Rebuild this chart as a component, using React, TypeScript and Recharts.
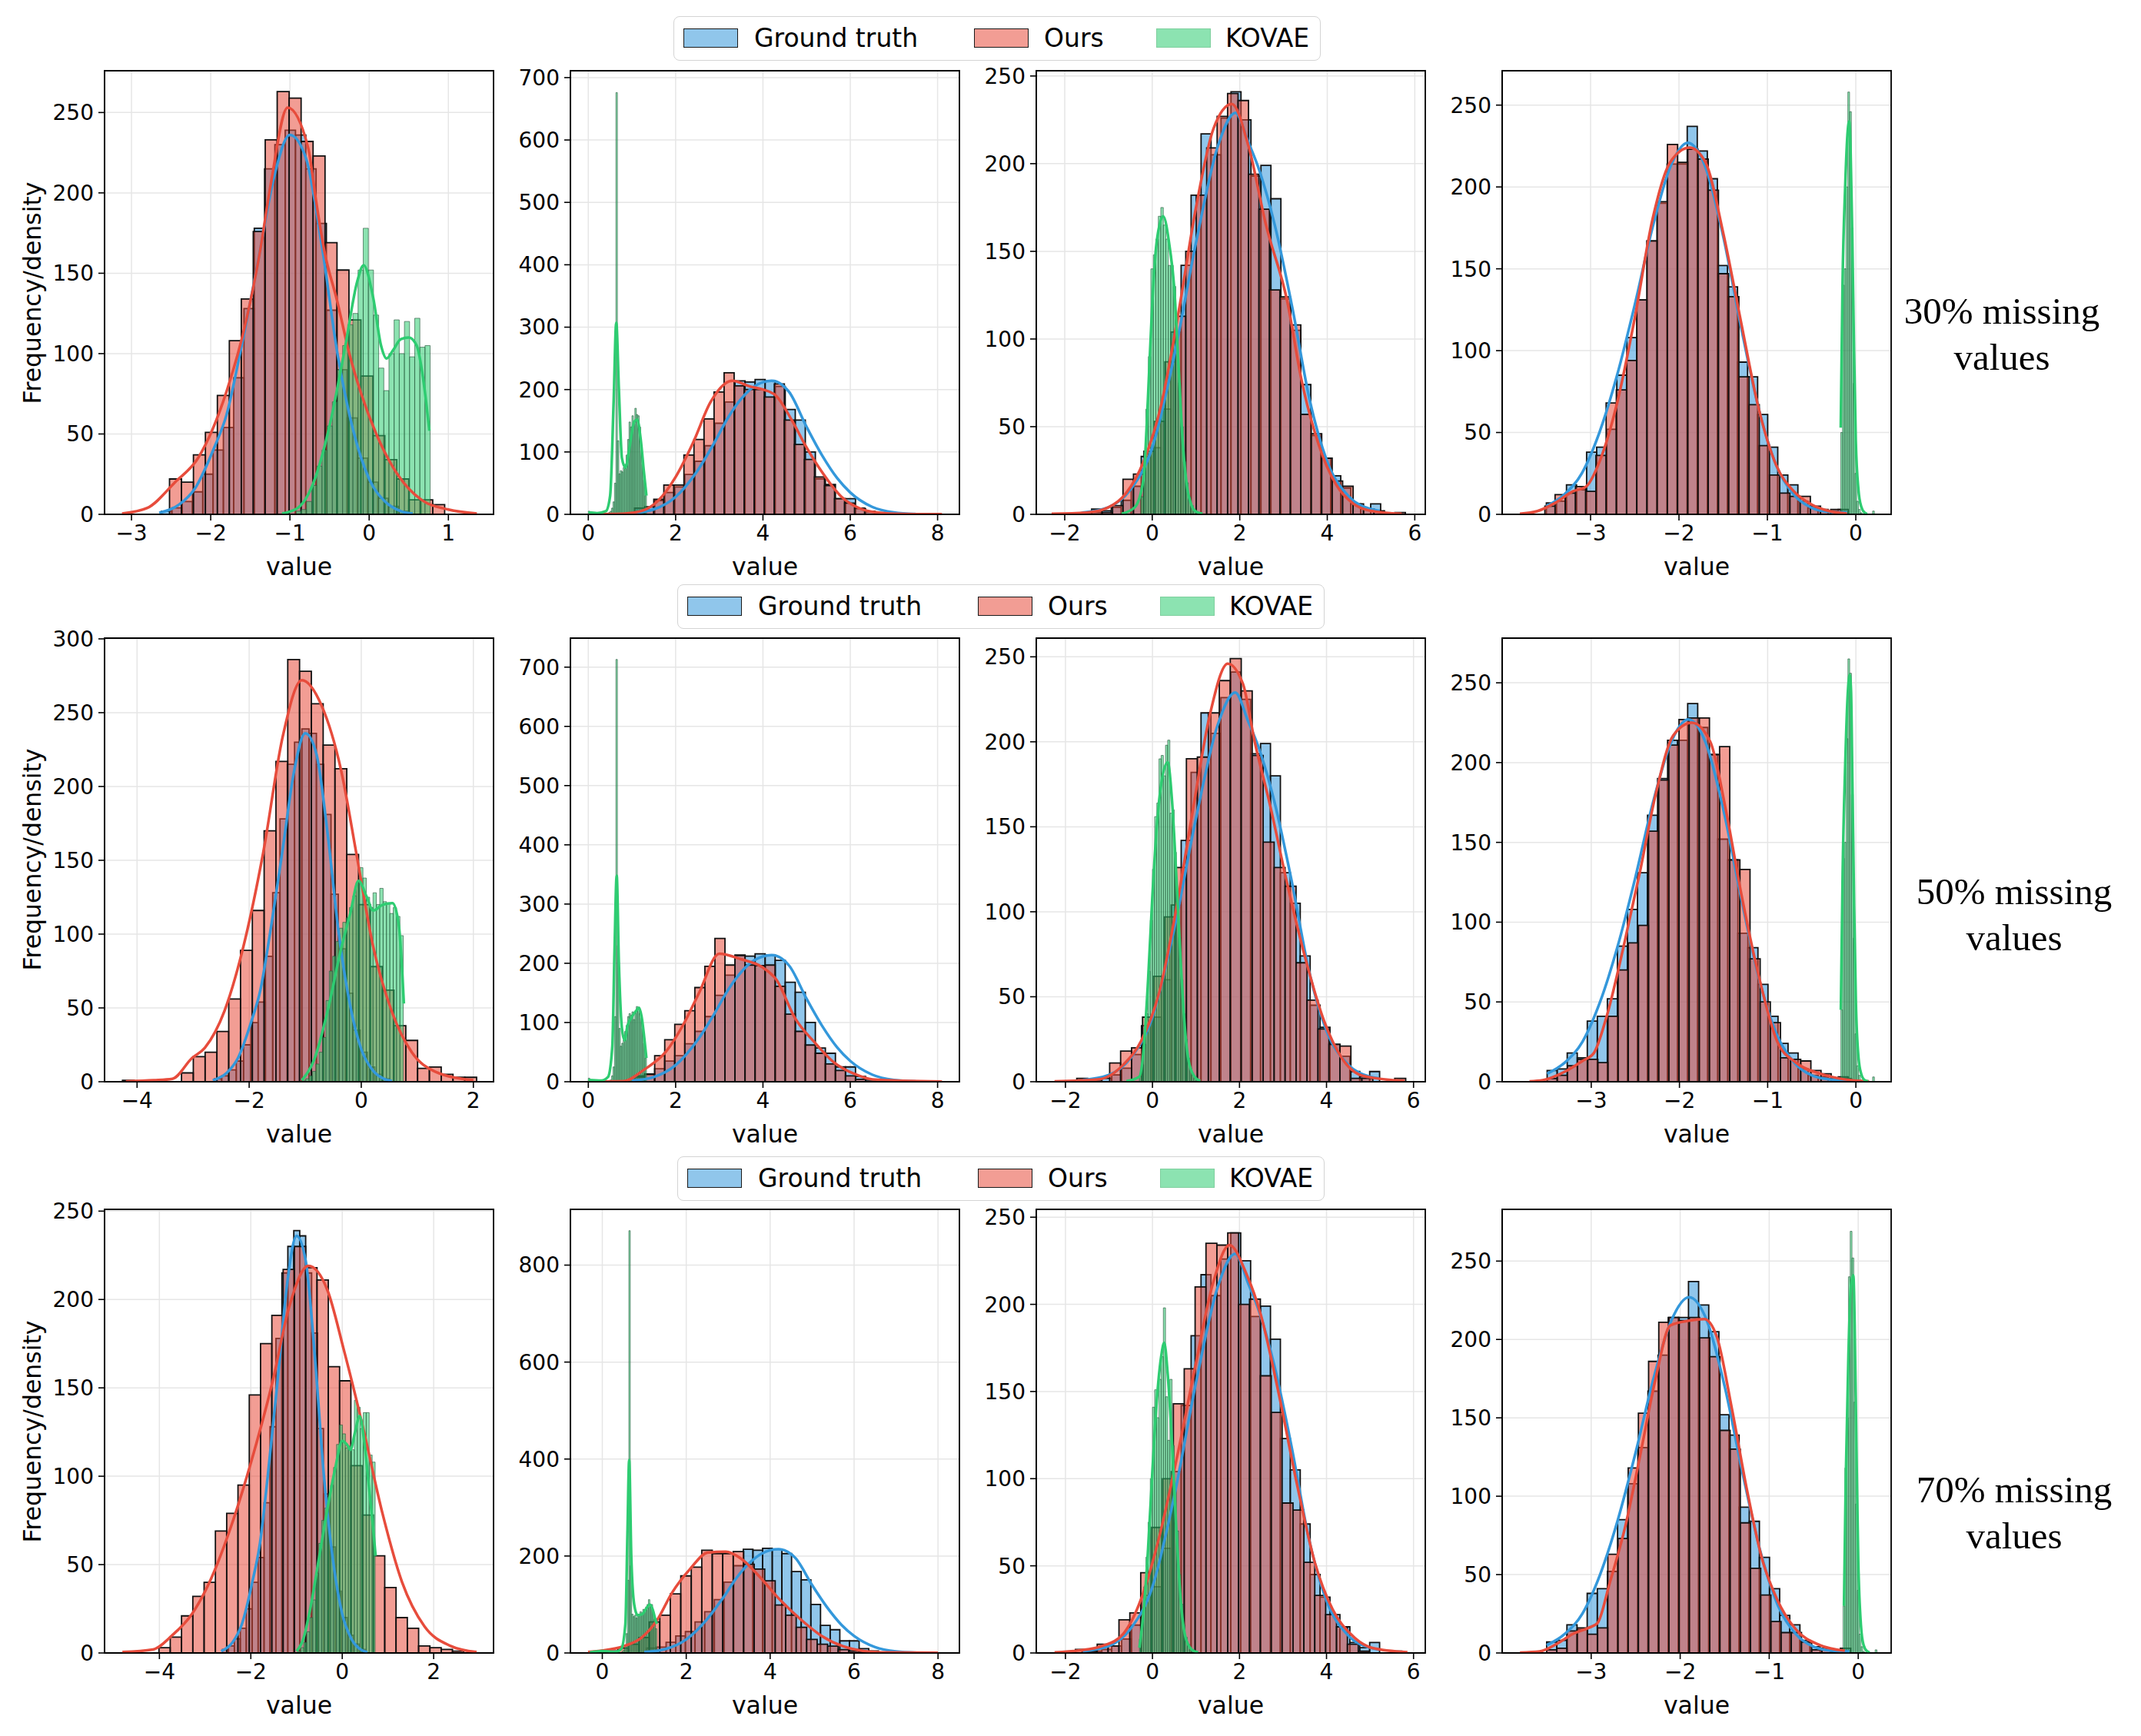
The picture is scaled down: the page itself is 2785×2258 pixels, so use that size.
import React from "react";
import { ComposedChart, Line, XAxis, YAxis, CartesianGrid, ReferenceArea, Label } from "recharts";

type Pt = [number, number];
type Hist = { start: number; width: number; counts: number[] };

const FONT = '"DejaVu Sans", sans-serif';
const BLUE = "#3498db";
const RED = "#e74c3c";
const GREEN = "#2ecc71";

// ---- tick values ----
const xTicksC1Top = [-3, -2, -1, 0, 1];
const xTicksC1 = [-4, -2, 0, 2];
const xTicksC2 = [0, 2, 4, 6, 8];
const xTicksC3 = [-2, 0, 2, 4, 6];
const xTicksC4 = [-3, -2, -1, 0];
const yTicks250 = [0, 50, 100, 150, 200, 250];
const yTicks300 = [0, 50, 100, 150, 200, 250, 300];
const yTicks700 = [0, 100, 200, 300, 400, 500, 600, 700];
const yTicks800 = [0, 200, 400, 600, 800];

// ---- ground truth counts (same sample for every missing rate) ----
const gtC1Counts = [2, 4, 8, 14, 25, 40, 54, 85, 128, 178, 215, 230, 239, 236, 215, 181, 127, 90, 60, 35, 20, 10, 5, 2];
const gtC2Counts = [10, 12, 22, 35, 44, 64, 85, 110, 146, 180, 214, 212, 216, 214, 205, 168, 151, 100, 57, 48, 25, 25, 9, 4];
const gtC3Counts = [1, 1, 2, 4, 8, 16, 33, 38, 60, 104, 142, 182, 217, 205, 226, 241, 225, 193, 199, 180, 123, 105, 74, 45, 32, 22, 15, 6, 3, 6];
const gtC4Counts = [7, 8, 18, 15, 38, 41, 52, 85, 108, 131, 167, 190, 214, 214, 237, 222, 205, 152, 139, 93, 84, 61, 41, 24, 18, 8, 4, 3, 2, 3];

const gtC1Kde: Pt[] = [[-2.65, 1], [-2.4, 6], [-2.2, 16], [-1.96, 41], [-1.8, 62], [-1.63, 100], [-1.4, 158], [-1.2, 210], [-1.0, 236], [-0.8, 222], [-0.6, 168], [-0.4, 100], [-0.2, 52], [0.0, 22], [0.2, 8], [0.4, 2], [0.55, 0.5]];
const gtC2Kde: Pt[] = [[1.0, 2], [1.5, 8], [2.0, 28], [2.5, 70], [2.88, 114], [3.2, 155], [3.5, 185], [3.8, 205], [4.2, 214], [4.6, 196], [5.0, 140], [5.35, 95], [5.7, 58], [6.0, 35], [6.5, 12], [7.0, 3], [7.5, 0.5]];
const gtC3Kde: Pt[] = [[-1.6, 1], [-1.0, 4], [-0.5, 14], [0.0, 38], [0.5, 90], [1.0, 155], [1.5, 210], [1.9, 229], [2.2, 212], [2.45, 196], [2.8, 165], [3.2, 118], [3.6, 65], [4.0, 30], [4.5, 10], [5.0, 3], [5.2, 2]];
const gtC4Kde: Pt[] = [[-3.5, 5], [-3.3, 12], [-3.1, 25], [-2.9, 50], [-2.7, 85], [-2.5, 128], [-2.3, 175], [-2.1, 212], [-1.9, 227], [-1.7, 212], [-1.5, 170], [-1.3, 115], [-1.1, 65], [-0.9, 30], [-0.7, 12], [-0.5, 4], [-0.3, 1.5], [-0.1, 1]];

// ---- ours, 30% missing ----
const oursR1C1 = [22, 20, 37, 51, 74, 108, 134, 176, 233, 263, 259, 232, 223, 169, 152, 121, 86, 49, 34, 22, 9, 9, 6];
const oursR1C2 = [7, 24, 47, 47, 95, 120, 153, 196, 227, 206, 200, 200, 188, 209, 151, 112, 88, 60, 46, 25, 18, 10, 5];
const oursR1C3 = [3, 1, 5, 20, 23, 36, 53, 87, 113, 150, 182, 209, 227, 240, 236, 194, 174, 128, 124, 108, 57, 46, 32, 19, 16, 6, 3, 2, 0, 1];
const oursR1C4 = [5, 12, 13, 17, 14, 36, 68, 76, 94, 131, 167, 191, 226, 215, 223, 217, 198, 147, 133, 84, 67, 42, 24, 13, 11, 11, 5, 2, 3];
// ---- ours, 50% missing ----
const oursR2C1 = [1, 0, 0, 0, 0, 6, 17, 20, 34, 56, 89, 116, 170, 217, 286, 278, 256, 228, 212, 154, 120, 78, 62, 38, 28, 9, 10, 5, 3, 3];
const oursR2C2 = [8, 13, 44, 71, 97, 120, 159, 195, 242, 197, 213, 197, 196, 197, 161, 114, 85, 62, 48, 30, 19, 10, 4, 1];
const oursR2C3 = [2, 0, 0, 11, 18, 20, 38, 62, 97, 126, 190, 191, 217, 236, 249, 230, 192, 141, 126, 115, 70, 48, 31, 22, 21, 2, 2, 0, 0, 2];
const oursR2C4 = [2, 4, 10, 14, 14, 12, 41, 70, 87, 98, 157, 189, 211, 227, 228, 228, 205, 210, 139, 133, 77, 50, 37, 15, 14, 13, 7, 5, 2, 2];
// ---- ours, 70% missing ----
const oursR3C1 = [3, 9, 21, 32, 40, 69, 79, 95, 146, 175, 191, 217, 230, 218, 211, 162, 154, 106, 78, 55, 37, 20, 14, 4, 3, 2, 1];
const oursR3C2 = [1, 4, 10, 18, 32, 64, 78, 122, 159, 177, 212, 205, 205, 209, 183, 173, 149, 99, 78, 53, 28, 18, 14, 7, 4, 2];
const oursR3C3 = [2, 1, 5, 4, 19, 23, 46, 72, 100, 143, 163, 210, 235, 234, 241, 200, 203, 159, 138, 86, 82, 52, 33, 22, 15, 5, 1, 0, 0, 1];
const oursR3C4 = [2, 3, 14, 16, 12, 16, 63, 73, 118, 153, 186, 211, 214, 212, 214, 201, 189, 142, 130, 83, 54, 37, 20, 13, 13, 7, 2, 3, 1];

const oursKdeR1C1: Pt[] = [[-3.12, 0.5], [-2.8, 4], [-2.45, 20], [-2.16, 35], [-1.79, 78], [-1.55, 121], [-1.38, 163], [-1.24, 206], [-1.03, 253], [-0.77, 228], [-0.67, 195], [-0.57, 165], [-0.4, 132], [-0.25, 100], [-0.1, 75], [0.09, 50], [0.37, 24], [0.66, 9], [1.0, 3], [1.36, 0.5]];
const oursKdeR1C2: Pt[] = [[0.0, 0.3], [0.8, 1], [1.2, 5], [1.6, 22], [2.0, 60], [2.4, 115], [2.8, 180], [3.3, 214], [3.7, 205], [4.0, 200], [4.3, 190], [4.66, 151], [5.0, 107], [5.35, 68], [5.8, 28], [6.2, 10], [6.6, 3], [7.0, 1], [8.1, 0.2]];
const oursKdeR1C3: Pt[] = [[-2.3, 0.3], [-1.5, 1], [-1.0, 4], [-0.6, 12], [-0.2, 30], [0.2, 62], [0.6, 115], [1.0, 175], [1.4, 220], [1.82, 234], [2.2, 210], [2.6, 165], [3.09, 121], [3.4, 78], [3.8, 40], [4.2, 17], [4.6, 6], [5.0, 2], [5.7, 0.3]];
const oursKdeR1C4: Pt[] = [[-3.8, 0.3], [-3.6, 2], [-3.4, 7], [-3.2, 14], [-3.05, 17], [-2.9, 32], [-2.7, 68], [-2.5, 120], [-2.3, 180], [-2.1, 215], [-1.88, 224], [-1.7, 215], [-1.5, 172], [-1.3, 118], [-1.1, 65], [-0.9, 30], [-0.7, 14], [-0.5, 6], [-0.3, 2], [-0.1, 0.5]];
const oursKdeR2C1: Pt[] = [[-4.2, 0.3], [-3.7, 1], [-3.37, 2], [-3.02, 16], [-2.79, 23], [-2.44, 48], [-2.1, 92], [-1.75, 155], [-1.4, 234], [-1.06, 272], [-0.71, 255], [-0.36, 211], [-0.08, 153], [0.21, 92], [0.56, 46], [0.9, 20], [1.31, 7], [2.0, 1]];
const oursKdeR2C2: Pt[] = [[0.0, 0.3], [0.81, 1], [1.29, 21], [1.77, 50], [2.18, 97], [2.53, 149], [3.0, 216], [3.49, 207], [3.97, 194], [4.31, 172], [4.73, 108], [5.2, 65], [5.62, 33], [6.1, 13], [6.51, 4], [8.1, 0.3]];
const oursKdeR2C3: Pt[] = [[-2.25, 0.2], [-1.22, 1.5], [-0.67, 10], [-0.26, 24], [0.15, 52], [0.57, 105], [0.91, 157], [1.32, 216], [1.73, 246], [2.08, 234], [2.35, 200], [2.7, 163], [3.11, 115], [3.52, 72], [3.94, 36], [4.35, 14], [4.83, 3.5], [5.79, 0.4]];
const oursKdeR2C4: Pt[] = [[-3.7, 0.3], [-3.55, 1], [-3.31, 6], [-3.1, 13], [-2.97, 18], [-2.83, 40], [-2.62, 88], [-2.45, 131], [-2.27, 180], [-2.07, 217], [-1.86, 225], [-1.65, 213], [-1.48, 172], [-1.3, 118], [-1.1, 66], [-0.89, 25], [-0.68, 12], [-0.4, 5], [-0.13, 1.5], [0.15, 0.3]];
const oursKdeR3C1: Pt[] = [[-4.81, 0.5], [-4.14, 2], [-3.72, 10], [-3.29, 22], [-2.87, 42], [-2.44, 71], [-1.95, 112], [-1.52, 154], [-1.17, 195], [-0.74, 219], [-0.32, 205], [0.03, 172], [0.46, 127], [0.88, 79], [1.31, 40], [1.8, 15], [2.37, 4], [2.94, 0.5]];
const oursKdeR3C2: Pt[] = [[-0.34, 2], [0.01, 5], [0.51, 14], [0.94, 32], [1.3, 67], [1.66, 124], [2.09, 173], [2.51, 207], [2.94, 209], [3.3, 195], [3.73, 159], [4.23, 110], [4.73, 69], [5.23, 35], [5.73, 14], [6.23, 4], [6.8, 1], [8.0, 0.2]];
const oursKdeR3C3: Pt[] = [[-2.25, 0.3], [-1.7, 1.4], [-1.15, 4], [-0.67, 11], [-0.26, 31], [0.15, 66], [0.57, 113], [0.98, 164], [1.39, 212], [1.77, 234], [2.15, 218], [2.49, 194], [2.9, 149], [3.32, 97], [3.73, 52], [4.14, 25], [4.55, 11], [5.04, 3], [5.86, 0.4]];
const oursKdeR3C4: Pt[] = [[-3.8, 0.3], [-3.58, 1], [-3.38, 6], [-3.21, 12], [-3.03, 16], [-2.93, 19], [-2.79, 45], [-2.62, 80], [-2.45, 126], [-2.28, 174], [-2.11, 209], [-1.9, 212], [-1.73, 213], [-1.59, 202], [-1.42, 156], [-1.25, 104], [-1.08, 60], [-0.91, 34], [-0.7, 15], [-0.43, 5], [-0.15, 1.5]];

// ---- KOVAE counts ----
const kovaeR1C1 = [2, 3, 8, 18, 30, 40, 55, 70, 90, 105, 118, 125, 152, 178, 152, 124, 91, 77, 100, 121, 100, 120, 98, 122, 104, 105];
const kovaeR1C2 = [5, 2, 0, 0, 0, 0, 0, 0, 0, 0, 0, 0, 0, 1, 3, 5, 10, 20, 50, 676, 118, 65, 70, 68, 75, 80, 95, 120, 148, 140, 158, 145, 170, 160, 158, 140, 110, 80, 55, 30];
const kovaeR1C3 = [10, 30, 60, 90, 140, 148, 157, 170, 175, 165, 157, 142, 142, 130, 100, 75, 50, 30, 18, 10, 5, 2];
const kovaeR1C4 = [50, 140, 150, 200, 258, 246, 175, 80, 25, 8, 3, 1, 0, 0, 0, 0, 0, 0, 2];
const kovaeR2C1 = [1, 2, 4, 7, 12, 20, 30, 55, 75, 85, 95, 104, 108, 111, 118, 126, 135, 145, 138, 125, 118, 128, 120, 131, 122, 121, 114, 118, 112, 99];
const kovaeR2C2 = [6, 1, 0, 0, 0, 0, 0, 0, 0, 0, 0, 0, 0, 1, 2, 3, 10, 25, 110, 713, 230, 90, 60, 65, 70, 85, 95, 110, 115, 112, 118, 105, 118, 127, 125, 115, 108, 90, 65, 40];
const kovaeR2C3 = [3, 10, 22, 40, 65, 95, 125, 156, 164, 190, 192, 180, 198, 201, 158, 160, 135, 110, 85, 60, 40, 25, 14, 8, 4, 2, 1];
const kovaeR2C4 = [45, 140, 150, 215, 265, 256, 180, 90, 30, 10, 4, 1, 0, 0, 0, 0, 0, 0, 3];
const kovaeR3C1 = [1, 3, 6, 12, 20, 30, 45, 62, 75, 82, 88, 95, 105, 118, 129, 124, 116, 117, 115, 143, 139, 127, 136, 136, 112, 108];
const kovaeR3C2 = [3, 1, 0, 0, 0, 0, 0, 0, 0, 0, 0, 0, 0, 1, 3, 6, 15, 40, 150, 871, 180, 80, 75, 78, 72, 78, 80, 85, 82, 90, 88, 95, 100, 110, 95, 100, 85, 70, 50];
const kovaeR3C3 = [8, 20, 38, 55, 75, 100, 141, 151, 135, 157, 170, 198, 147, 122, 157, 119, 95, 70, 45, 28, 16, 9, 5, 2, 1];
const kovaeR3C4 = [30, 118, 150, 240, 269, 252, 160, 95, 40, 12, 4, 1, 0, 0, 0, 0, 0, 0, 2];

const kovaeKdeR1C1: Pt[] = [[-1.1, 0.5], [-0.9, 4], [-0.7, 20], [-0.5, 55], [-0.3, 105], [-0.15, 145], [-0.07, 155], [0.05, 135], [0.15, 105], [0.22, 97], [0.3, 102], [0.4, 109], [0.5, 110], [0.6, 105], [0.68, 85], [0.76, 52]];
const kovaeKdeR1C2: Pt[] = [[0.0, 3], [0.2, 2], [0.4, 5], [0.5, 30], [0.58, 180], [0.64, 307], [0.7, 200], [0.77, 90], [0.85, 75], [0.95, 110], [1.05, 148], [1.12, 152], [1.2, 120], [1.27, 70], [1.33, 30]];
const kovaeKdeR1C3: Pt[] = [[-0.7, 0.3], [-0.4, 4], [-0.2, 20], [-0.1, 65], [0.0, 120], [0.1, 155], [0.25, 170], [0.4, 152], [0.5, 130], [0.6, 85], [0.7, 40], [0.8, 15], [0.9, 5], [1.0, 1.5], [1.15, 0.3]];
const kovaeKdeR1C4: Pt[] = [[-0.17, 53], [-0.15, 140], [-0.12, 200], [-0.09, 235], [-0.075, 240], [-0.06, 225], [-0.04, 170], [-0.02, 100], [0.0, 45], [0.03, 15], [0.06, 5], [0.1, 1], [0.13, 0.3]];
const kovaeKdeR2C1: Pt[] = [[-1.06, 1], [-0.83, 16], [-0.6, 48], [-0.36, 90], [-0.19, 115], [-0.05, 136], [0.1, 125], [0.21, 116], [0.39, 120], [0.56, 121], [0.67, 106], [0.76, 53]];
const kovaeKdeR2C2: Pt[] = [[0.0, 3], [0.3, 2], [0.45, 8], [0.55, 60], [0.6, 220], [0.65, 348], [0.7, 200], [0.77, 90], [0.83, 70], [0.9, 95], [1.0, 110], [1.1, 120], [1.16, 125], [1.22, 110], [1.28, 75], [1.33, 40]];
const kovaeKdeR2C3: Pt[] = [[-0.6, 0.3], [-0.3, 3], [-0.2, 20], [-0.1, 60], [0.0, 110], [0.1, 150], [0.2, 175], [0.35, 188], [0.45, 165], [0.55, 120], [0.65, 70], [0.75, 30], [0.85, 10], [1.0, 2], [1.1, 0.5]];
const kovaeKdeR2C4: Pt[] = [[-0.17, 45], [-0.15, 130], [-0.12, 200], [-0.09, 245], [-0.07, 255], [-0.055, 245], [-0.04, 190], [-0.02, 110], [0.0, 50], [0.03, 15], [0.06, 5], [0.1, 1], [0.14, 0.3]];
const kovaeKdeR3C1: Pt[] = [[-1.0, 1], [-0.85, 8], [-0.7, 25], [-0.5, 55], [-0.3, 85], [-0.15, 105], [0.0, 120], [0.1, 118], [0.18, 115], [0.28, 125], [0.38, 134], [0.48, 120], [0.58, 95], [0.66, 75], [0.73, 55]];
const kovaeKdeR3C2: Pt[] = [[-0.3, 1], [0.0, 4], [0.3, 2], [0.45, 8], [0.55, 60], [0.6, 250], [0.64, 398], [0.69, 200], [0.76, 100], [0.84, 78], [0.95, 80], [1.05, 92], [1.13, 100], [1.2, 90], [1.26, 70], [1.3, 60]];
const kovaeKdeR3C3: Pt[] = [[-0.3, 3], [-0.2, 25], [-0.1, 60], [0.0, 105], [0.1, 145], [0.2, 170], [0.27, 178], [0.35, 160], [0.45, 120], [0.55, 70], [0.65, 30], [0.75, 10], [0.9, 2], [1.05, 0.3]];
const kovaeKdeR3C4: Pt[] = [[-0.16, 30], [-0.14, 110], [-0.11, 190], [-0.08, 235], [-0.055, 241], [-0.04, 210], [-0.02, 130], [0.0, 60], [0.03, 18], [0.06, 5], [0.1, 1], [0.13, 0.3]];

const rowLabels = [["30% missing", "values"], ["50% missing", "values"], ["70% missing", "values"]];
const legendNames = ["Ground truth", "Ours", "KOVAE"];

type Panel = {
  xDomain: [number, number];
  yDomain: [number, number];
  xTicks: number[];
  yTicks: number[];
  gt: Hist;
  ours: Hist;
  kovae: Hist;
  gtKde: Pt[];
  oursKde: Pt[];
  kovaeKde: Pt[];
};

const h = (start: number, width: number, counts: number[]): Hist => ({ start, width, counts });

const gtC1 = h(-2.62, 0.13, gtC1Counts);
const gtC2 = h(1.06, 0.23, gtC2Counts);
const gtC3 = h(-1.62, 0.228, gtC3Counts);
const gtC4 = h(-3.5, 0.1138, gtC4Counts);

const panels: Panel[][] = [
  [
    { xDomain: [-3.34, 1.57], yDomain: [0, 276], xTicks: xTicksC1Top, yTicks: yTicks250, gt: gtC1, ours: h(-2.52, 0.151, oursR1C1), kovae: h(-0.92, 0.065, kovaeR1C1), gtKde: gtC1Kde, oursKde: oursKdeR1C1, kovaeKde: kovaeKdeR1C1 },
    { xDomain: [-0.41, 8.5], yDomain: [0, 711], xTicks: xTicksC2, yTicks: yTicks700, gt: gtC2, ours: h(1.27, 0.23, oursR1C2), kovae: h(0, 0.0333, kovaeR1C2), gtKde: gtC2Kde, oursKde: oursKdeR1C2, kovaeKde: kovaeKdeR1C2 },
    { xDomain: [-2.65, 6.24], yDomain: [0, 253], xTicks: xTicksC3, yTicks: yTicks250, gt: gtC3, ours: h(-1.385, 0.239, oursR1C3), kovae: h(-0.26, 0.057, kovaeR1C3), gtKde: gtC3Kde, oursKde: oursKdeR1C3, kovaeKde: kovaeKdeR1C3 },
    { xDomain: [-4.0, 0.4], yDomain: [0, 271], xTicks: xTicksC4, yTicks: yTicks250, gt: gtC4, ours: h(-3.517, 0.1155, oursR1C4), kovae: h(-0.17, 0.02, kovaeR1C4), gtKde: gtC4Kde, oursKde: oursKdeR1C4, kovaeKde: kovaeKdeR1C4 },
  ],
  [
    { xDomain: [-4.58, 2.36], yDomain: [0, 300.5], xTicks: xTicksC1, yTicks: yTicks300, gt: gtC1, ours: h(-4.26, 0.2106, oursR2C1), kovae: h(-1.05, 0.06, kovaeR2C1), gtKde: gtC1Kde, oursKde: oursKdeR2C1, kovaeKde: kovaeKdeR2C1 },
    { xDomain: [-0.41, 8.5], yDomain: [0, 749], xTicks: xTicksC2, yTicks: yTicks700, gt: gtC2, ours: h(1.06, 0.23, oursR2C2), kovae: h(0, 0.0333, kovaeR2C2), gtKde: gtC2Kde, oursKde: oursKdeR2C2, kovaeKde: kovaeKdeR2C2 },
    { xDomain: [-2.67, 6.27], yDomain: [0, 261], xTicks: xTicksC3, yTicks: yTicks250, gt: gtC3, ours: h(-1.74, 0.252, oursR2C3), kovae: h(-0.3, 0.05, kovaeR2C3), gtKde: gtC3Kde, oursKde: oursKdeR2C3, kovaeKde: kovaeKdeR2C3 },
    { xDomain: [-4.01, 0.4], yDomain: [0, 278], xTicks: xTicksC4, yTicks: yTicks250, gt: gtC4, ours: h(-3.5, 0.115, oursR2C4), kovae: h(-0.17, 0.02, kovaeR2C4), gtKde: gtC4Kde, oursKde: oursKdeR2C4, kovaeKde: kovaeKdeR2C4 },
  ],
  [
    { xDomain: [-5.2, 3.31], yDomain: [0, 251], xTicks: xTicksC1, yTicks: yTicks250, gt: gtC1, ours: h(-4.01, 0.247, oursR3C1), kovae: h(-0.97, 0.065, kovaeR3C1), gtKde: gtC1Kde, oursKde: oursKdeR3C1, kovaeKde: kovaeKdeR3C1 },
    { xDomain: [-0.76, 8.51], yDomain: [0, 915], xTicks: xTicksC2, yTicks: yTicks800, gt: gtC2, ours: h(-0.13, 0.25, oursR3C2), kovae: h(0, 0.0333, kovaeR3C2), gtKde: gtC2Kde, oursKde: oursKdeR3C2, kovaeKde: kovaeKdeR3C2 },
    { xDomain: [-2.67, 6.27], yDomain: [0, 254.5], xTicks: xTicksC3, yTicks: yTicks250, gt: gtC3, ours: h(-1.77, 0.25, oursR3C3), kovae: h(-0.3, 0.05, kovaeR3C3), gtKde: gtC3Kde, oursKde: oursKdeR3C3, kovaeKde: kovaeKdeR3C3 },
    { xDomain: [-4.0, 0.37], yDomain: [0, 283], xTicks: xTicksC4, yTicks: yTicks250, gt: gtC4, ours: h(-3.5, 0.1145, oursR3C4), kovae: h(-0.17, 0.02, kovaeR3C4), gtKde: gtC4Kde, oursKde: oursKdeR3C4, kovaeKde: kovaeKdeR3C4 },
  ],
];

// ---- layout ----
const PLOT_W = 506;
const PLOT_H = 577;
const AXIS_W = 120;
const TOP_PAD = 20;
const RIGHT_PAD = 20;
const XAXIS_H = 100;
const colLeft = [135.5, 742, 1348, 1954];
const rowTop = [92, 829.5, 1573];
const legendTop = [21, 760, 1504];
const legendLeft = [876, 881, 881];
const labelCenterX = [2604, 2620, 2620];
const labelTop = [375, 1130, 1908];

const FILL_ALPHA = 0.55;

const fmtTick = (v: number) => (v < 0 ? "\u2212" + Math.abs(v) : String(v));
const toRows = (pts: Pt[]) => pts.map(([x, y]) => ({ x, y }));

function histAreas(hist: Hist, key: string, color: string, edge: string, edgeW: number, edgeOpacity: number) {
  return hist.counts.map((c, i) =>
    c > 0 ? (
      <ReferenceArea
        key={`${key}-${i}`}
        x1={hist.start + i * hist.width}
        x2={hist.start + (i + 1) * hist.width}
        y1={0}
        y2={c}
        ifOverflow="hidden"
        fill={color}
        fillOpacity={FILL_ALPHA}
        stroke={edge}
        strokeWidth={edgeW}
        strokeOpacity={edgeOpacity}
      />
    ) : null
  );
}

function HistPanel({ p, left, top }: { p: Panel; left: number; top: number }) {
  const tickStyle = { fontSize: 28, fill: "#000", fontFamily: FONT };
  const axisStroke = { stroke: "#000", strokeWidth: 1.6 };
  return (
    <div style={{ position: "absolute", left: left - AXIS_W, top: top - TOP_PAD }}>
      <ComposedChart
        width={AXIS_W + PLOT_W + RIGHT_PAD}
        height={TOP_PAD + PLOT_H + XAXIS_H}
        margin={{ top: TOP_PAD, right: RIGHT_PAD, bottom: 0, left: 0 }}
      >
        <CartesianGrid stroke="#e6e6e6" strokeWidth={1.5} />
        <XAxis
          type="number"
          dataKey="x"
          domain={p.xDomain}
          ticks={p.xTicks}
          interval={0}
          allowDataOverflow
          height={XAXIS_H}
          tick={tickStyle}
          tickFormatter={fmtTick}
          tickSize={8}
          tickMargin={6}
          axisLine={axisStroke}
          tickLine={axisStroke}
        >
          <Label value="value" position="insideBottom" offset={21} style={{ fontSize: 31.5, fontFamily: FONT, fill: "#000" }} />
        </XAxis>
        <YAxis
          type="number"
          domain={p.yDomain}
          ticks={p.yTicks}
          interval={0}
          allowDataOverflow
          width={AXIS_W}
          tick={tickStyle}
          tickSize={8}
          tickMargin={6}
          axisLine={axisStroke}
          tickLine={axisStroke}
        />
        {histAreas(p.gt, "gt", BLUE, "#111", 1.8, 1)}
        {histAreas(p.ours, "ours", RED, "#111", 1.8, 1)}
        {histAreas(p.kovae, "kovae", GREEN, "#24543a", 0.9, 0.7)}
        <ReferenceArea x1={p.xDomain[0]} x2={p.xDomain[1]} y1={p.yDomain[0]} y2={p.yDomain[1]} fill="none" stroke="#000" strokeWidth={1.8} />
        <Line data={toRows(p.gtKde)} dataKey="y" type="monotone" stroke={BLUE} strokeWidth={3.5} dot={false} activeDot={false} isAnimationActive={false} />
        <Line data={toRows(p.oursKde)} dataKey="y" type="monotone" stroke={RED} strokeWidth={3.5} dot={false} activeDot={false} isAnimationActive={false} />
        <Line data={toRows(p.kovaeKde)} dataKey="y" type="monotone" stroke={GREEN} strokeWidth={3.5} dot={false} activeDot={false} isAnimationActive={false} />
      </ComposedChart>
    </div>
  );
}

const swatch = [
  { fill: "rgba(52,152,219,0.55)", edge: "#1a1a1a", x: 12, tx: 104 },
  { fill: "rgba(231,76,60,0.55)", edge: "#1a1a1a", x: 390, tx: 481 },
  { fill: "rgba(46,204,113,0.55)", edge: "#7fcf9e", x: 627, tx: 717 },
];

function LegendBox({ left, top }: { left: number; top: number }) {
  return (
    <div
      style={{
        position: "absolute",
        left,
        top,
        width: 842,
        height: 58,
        boxSizing: "border-box",
        border: "1.5px solid #d4d4d4",
        borderRadius: 8,
        background: "rgba(255,255,255,0.85)",
        fontFamily: FONT,
        fontSize: 33,
        color: "#000",
      }}
    >
      {legendNames.map((name, i) => (
        <React.Fragment key={name}>
          <div
            style={{
              position: "absolute",
              left: swatch[i].x,
              top: 15,
              width: 71,
              height: 25,
              boxSizing: "border-box",
              background: swatch[i].fill,
              border: `1.5px solid ${swatch[i].edge}`,
            }}
          />
          <div style={{ position: "absolute", left: swatch[i].tx, top: 0, lineHeight: "55px", whiteSpace: "nowrap" }}>{name}</div>
        </React.Fragment>
      ))}
    </div>
  );
}

export default function App() {
  return (
    <div style={{ position: "absolute", left: 0, top: 0, width: 2785, height: 2258, background: "#fff", overflow: "hidden" }}>
      {panels.map((row, r) =>
        row.map((p, c) => <HistPanel key={`${r}-${c}`} p={p} left={colLeft[c]} top={rowTop[r]} />)
      )}
      {rowTop.map((t, r) => (
        <div
          key={`yl-${r}`}
          style={{
            position: "absolute",
            left: 42,
            top: t + PLOT_H / 2,
            transform: "translate(-50%, -50%) rotate(-90deg)",
            fontFamily: FONT,
            fontSize: 31.5,
            whiteSpace: "nowrap",
            color: "#000",
          }}
        >
          Frequency/density
        </div>
      ))}
      {legendTop.map((t, r) => (
        <LegendBox key={`lg-${r}`} left={legendLeft[r]} top={t} />
      ))}
      {rowLabels.map((lines, r) => (
        <div
          key={`rl-${r}`}
          style={{
            position: "absolute",
            left: labelCenterX[r],
            top: labelTop[r],
            transform: "translateX(-50%)",
            fontFamily: '"Liberation Serif", "Times New Roman", serif',
            fontSize: 49,
            lineHeight: "60px",
            textAlign: "center",
            whiteSpace: "nowrap",
            color: "#000",
          }}
        >
          {lines[0]}
          <br />
          {lines[1]}
        </div>
      ))}
    </div>
  );
}
